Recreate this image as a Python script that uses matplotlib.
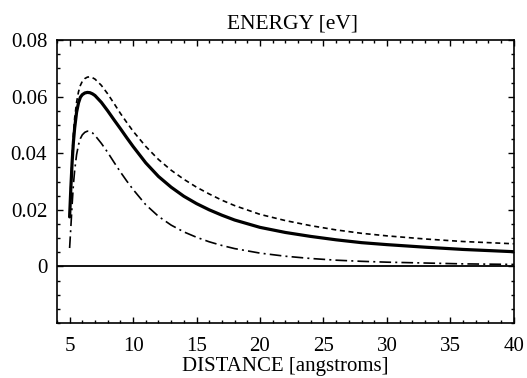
import matplotlib
matplotlib.use("Agg")
import matplotlib.pyplot as plt
from matplotlib.ticker import MultipleLocator

# distance [angstroms]
distance = [5.0, 5.1, 5.2, 5.3, 5.4, 5.55, 5.7, 5.85, 6.0, 6.2, 6.4, 6.6, 6.8, 7.0,
            7.5, 8.0, 8.5, 9.0, 9.5, 10.0, 11.0, 12.0, 13.0, 14.0, 15.0, 16.0, 17.0,
            18.0, 20.0, 22.0, 24.0, 26.0, 28.0, 30.0, 33.0, 36.0, 40.0]

# energy [eV], solid thick curve
energy_solid = [0.0175, 0.028, 0.037, 0.044, 0.049, 0.0545, 0.0578, 0.0598, 0.0607,
                0.0613, 0.0615, 0.0614, 0.0610, 0.0604, 0.0580, 0.0550, 0.0518, 0.0487,
                0.0455, 0.0424, 0.0366, 0.0318, 0.0280, 0.0248, 0.0222, 0.0200, 0.0181,
                0.0164, 0.0138, 0.0120, 0.0106, 0.0094, 0.0084, 0.0077, 0.0068, 0.0060,
                0.0052]

# energy [eV], short-dashed curve
energy_dashed = [0.018, 0.029, 0.039, 0.047, 0.0525, 0.0580, 0.0617, 0.0640, 0.0654,
                 0.0664, 0.0669, 0.0670, 0.0667, 0.0662, 0.0640, 0.0610, 0.0576, 0.0541,
                 0.0509, 0.0478, 0.0424, 0.0378, 0.0340, 0.0308, 0.0280, 0.0256, 0.0234,
                 0.0215, 0.0184, 0.0162, 0.0144, 0.0129, 0.0117, 0.0108, 0.0097, 0.0088,
                 0.0080]

# energy [eV], dash-dot curve
energy_dashdot = [0.0065, 0.014, 0.022, 0.029, 0.034, 0.0395, 0.0430, 0.0452, 0.0465,
                  0.0474, 0.0478, 0.0477, 0.0472, 0.0463, 0.0435, 0.0403, 0.0368, 0.0334,
                  0.0302, 0.0272, 0.0218, 0.0177, 0.0146, 0.0122, 0.0103, 0.0087, 0.0074,
                  0.0063, 0.0047, 0.0036, 0.0028, 0.0022, 0.0018, 0.0015, 0.0012, 0.0009,
                  0.0007]

xticks = [5, 10, 15, 20, 25, 30, 35, 40]
yticks = [0.0, 0.02, 0.04, 0.06, 0.08]
ytick_labels = ["0", "0.02", "0.04", "0.06", "0.08"]

plt.rcParams['font.family'] = ['Liberation Serif', 'DejaVu Serif']

fig = plt.figure(figsize=(5.27, 3.78), dpi=100)
ax = fig.add_axes([0.108, 0.1455, 0.867, 0.7485])

ax.axhline(0, color='black', lw=1.3, zorder=1)
ax.plot(distance, energy_dashed, color='black', lw=1.2, linestyle=(0, (3, 2.2)))
ax.plot(distance, energy_solid, color='black', lw=2.3, solid_capstyle='round')
ax.plot(distance, energy_dashdot, color='black', lw=1.2,
        linestyle=(0, (7, 2.5, 1.2, 2.5)))

ax.set_xlim(4, 40)
ax.set_ylim(-0.02, 0.08)
ax.set_xticks(xticks)
ax.set_yticks(yticks)
ax.set_yticklabels(ytick_labels)
ax.xaxis.set_minor_locator(MultipleLocator(1))
ax.yaxis.set_minor_locator(MultipleLocator(0.005))
ax.tick_params(which='both', direction='in', top=True, right=True, labelsize=15,
               width=1.0)
ax.tick_params(axis='x', which='major', pad=10)
ax.tick_params(axis='y', which='major', pad=7)
ax.tick_params(which='major', length=4)
ax.tick_params(which='minor', length=2.2)
for s in ax.spines.values():
    s.set_linewidth(1.2)

ax.set_title("ENERGY [eV]", fontsize=15.5, pad=8, x=0.515)
ax.set_xlabel("DISTANCE [angstroms]", fontsize=15, labelpad=1)

fig.savefig("out.png", dpi=100)
